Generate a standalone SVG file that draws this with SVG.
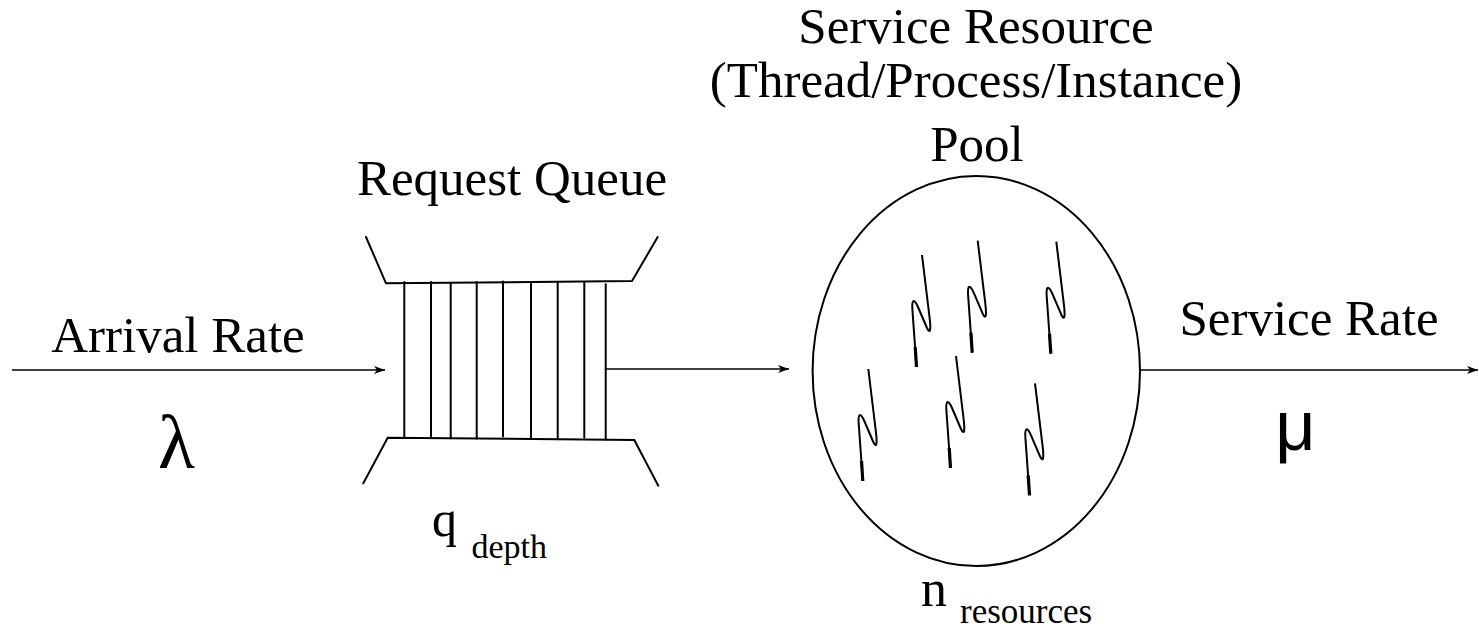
<svg xmlns="http://www.w3.org/2000/svg" xmlns:xlink="http://www.w3.org/1999/xlink" width="1479" height="632" viewBox="0 0 1479 632">
<style>
.t{font-family:"Liberation Serif","Times New Roman",serif;fill:#000}
.ln{stroke:#000;stroke-width:2;fill:none;stroke-linecap:round}
.ar{stroke:#000;stroke-width:1.6;fill:none}
.th{stroke:#000;stroke-width:2;fill:none;stroke-linejoin:round}
.thb{stroke:#000;stroke-width:3.2;fill:none}
</style>
<defs>
<marker id="arr" markerUnits="userSpaceOnUse" markerWidth="12" markerHeight="10" refX="11" refY="5" orient="auto">
<path d="M0,1 L11,5 L0,9 L3,5 z" fill="#000"/>
</marker>
<g id="thread">
<path class="th" d="M0,0 L7.5,62 C9,74 8.5,80 5,73 L-4,52 C-8,43 -10.5,44 -9.5,56 L-5.5,112"/>
<path class="thb" d="M-6.8,92 L-5.5,112"/>
</g>
</defs>
<rect width="1479" height="632" fill="#fff"/>

<g id="connectors">
<line class="ar" x1="12" y1="370" x2="385" y2="370" marker-end="url(#arr)"/>
<line class="ar" x1="606" y1="369" x2="789" y2="369" marker-end="url(#arr)"/>
<line class="ar" x1="1140" y1="370" x2="1478" y2="370" marker-end="url(#arr)"/>
</g>

<g id="arrival">
<text class="t" x="178" y="352" font-size="51" text-anchor="middle">Arrival Rate</text>
<text class="t" x="176.5" y="468" font-size="76" text-anchor="middle">λ</text>
</g>

<g id="queue">
<text class="t" x="512" y="195" font-size="51" text-anchor="middle">Request Queue</text>
<path class="ln" d="M366,237 L386,283.3 L632,281 L657.7,237"/>
<path class="ln" d="M363.3,483.3 L387.7,437.7 L634.3,440 L658.3,485.7"/>
<g class="ln">
<line x1="404.3" y1="282" x2="404.3" y2="437.8"/>
<line x1="431" y1="282" x2="431" y2="438"/>
<line x1="450.7" y1="283" x2="450.7" y2="438.3"/>
<line x1="476.7" y1="282" x2="476.7" y2="438.5"/>
<line x1="503" y1="281.5" x2="503" y2="436.5"/>
<line x1="531" y1="282" x2="531" y2="439"/>
<line x1="557.7" y1="282" x2="557.7" y2="439.3"/>
<line x1="584.3" y1="282" x2="584.3" y2="437.5"/>
<line x1="605.7" y1="284.3" x2="605.7" y2="439.8"/>
</g>
<text class="t" x="432" y="536" font-size="50">q</text>
<text class="t" x="471.5" y="558" font-size="34">depth</text>
</g>

<g id="pool">
<text class="t" x="976" y="43" font-size="51" text-anchor="middle">Service Resource</text>
<text class="t" x="976" y="97" font-size="51" text-anchor="middle">(Thread/Process/Instance)</text>
<text class="t" x="977" y="161" font-size="51" text-anchor="middle">Pool</text>
<ellipse cx="976.3" cy="371" rx="163.7" ry="195" fill="none" stroke="#000" stroke-width="2"/>
<use xlink:href="#thread" x="922" y="255"/>
<use xlink:href="#thread" x="977.7" y="240.7"/>
<use xlink:href="#thread" x="1056.3" y="241.7"/>
<use xlink:href="#thread" x="868.3" y="369"/>
<use xlink:href="#thread" x="956" y="356"/>
<use xlink:href="#thread" x="1035" y="383.3"/>
<text class="t" x="921" y="606" font-size="52">n</text>
<text class="t" x="960" y="623" font-size="35">resources</text>
</g>

<g id="service">
<text class="t" x="1309" y="335" font-size="51" text-anchor="middle">Service Rate</text>
<text x="1295.5" y="450" font-size="70" text-anchor="middle" font-family="Liberation Sans, Arial, sans-serif">μ</text>
</g>
</svg>
